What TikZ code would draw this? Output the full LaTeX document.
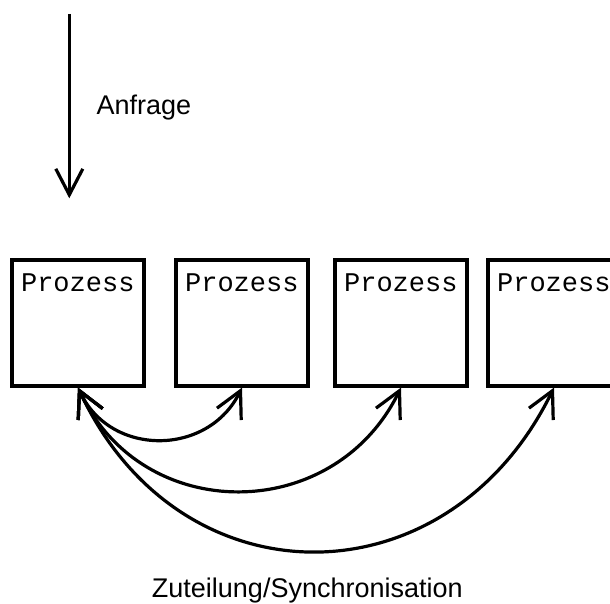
\documentclass[tikz,border=0pt]{standalone}
\usepackage{fontspec}
\setmainfont{Liberation Sans}
\newfontfamily\procfont{Liberation Mono}
\usetikzlibrary{arrows.meta}

\tikzset{
  procbox/.style={draw, line width=3.2pt, minimum width=132pt, minimum height=126pt, inner sep=0pt},
  proclabel/.style={anchor=base west, inner sep=0pt, font=\procfont\fontsize{27}{30}\selectfont},
  caption/.style={inner sep=0pt, font=\fontsize{27}{32}\selectfont},
  barb/.style={line width=3.2pt, -{Straight Barb[length=26pt,width=27pt]}},
  dblbarb/.style={line width=3.2pt, {Straight Barb[length=26pt,width=27pt]}-{Straight Barb[length=26pt,width=27pt]}}
}

\begin{document}
\begin{tikzpicture}[x=1pt,y=1pt]
  \useasboundingbox (0,0) rectangle (610,603);

  % incoming request
  \coordinate (reqtop) at (69.3,589);
  \coordinate (reqtip) at (69.3,404.7);
  \draw[barb] (reqtop) -- (reqtip);
  \node[caption, anchor=base west] (req) at (96.3,488) {Anfrage};

  % the four processes
  \node[procbox] (p1) at (78,280) {};
  \node[procbox] (p2) at (242,280) {};
  \node[procbox] (p3) at (401,280) {};
  \node[procbox] (p4) at (554,280) {};
  \foreach \i in {1,2,3,4}
    \node[proclabel] (t\i) at ([shift={(10.5,-32.7)}]p\i.north west) {Prozess};

  % scheduling / synchronisation links
  \draw[dblbarb] (p1.south) to[out=-65, in=244, looseness=1.2] (p2.south);
  \draw[dblbarb] (p1.south) to[out=-65, in=244, looseness=1.21] (p3.south);
  \draw[dblbarb] (p1.south) to[out=-65, in=244, looseness=1.3] (p4.south);

  \node[caption, anchor=base] (sync) at (307.3,5.7) {Zuteilung/Synchronisation};
\end{tikzpicture}
\end{document}
